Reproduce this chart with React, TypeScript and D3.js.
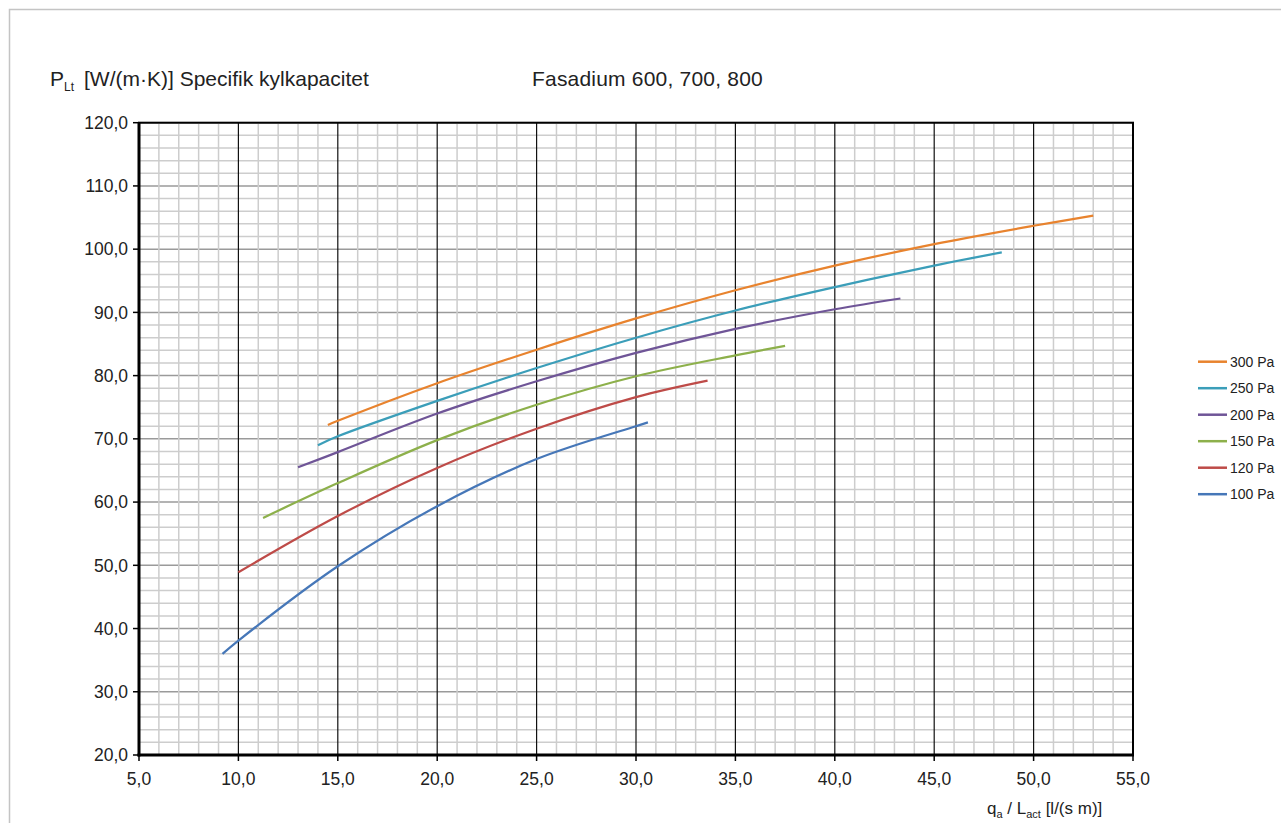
import React from 'react'
import * as d3 from 'd3'

// pressure series, top to bottom in the legend
const seriesNames = ['300 Pa', '250 Pa', '200 Pa', '150 Pa', '120 Pa', '100 Pa']
const seriesColors = ['#E8832E', '#3B9EB9', '#6F5597', '#8DB04B', '#BE4B48', '#4677B8']

const q300 = [14.5, 15, 20, 25, 30, 35, 40, 45, 50, 53.0]
const p300 = [72.2, 72.85, 78.8, 84.1, 89.05, 93.5, 97.4, 100.8, 103.7, 105.3]
const q250 = [14.0, 15, 20, 25, 30, 35, 40, 45, 48.4]
const p250 = [69.0, 70.4, 76.0, 81.2, 86.0, 90.3, 94.0, 97.4, 99.5]
const q200 = [13.0, 15, 20, 25, 30, 35, 40, 43.3]
const p200 = [65.5, 67.9, 74.0, 79.1, 83.6, 87.4, 90.5, 92.2]
const q150 = [11.24, 15, 20, 25, 30, 35, 37.5]
const p150 = [57.5, 63.0, 69.8, 75.4, 79.9, 83.2, 84.7]
const q120 = [10.0, 15, 20, 25, 30, 33.6]
const p120 = [48.9, 57.8, 65.4, 71.6, 76.6, 79.2]
const q100 = [9.2, 10, 15, 20, 25, 30, 30.6]
const p100 = [36.0, 38.1, 49.85, 59.35, 66.8, 72.0, 72.6]

const xTicks = [5, 10, 15, 20, 25, 30, 35, 40, 45, 50, 55]
const yTicks = [20, 30, 40, 50, 60, 70, 80, 90, 100, 110, 120]

const qs = [q300, q250, q200, q150, q120, q100]
const ps = [p300, p250, p200, p150, p120, p100]

const fmt = (v: number) => v.toFixed(1).replace('.', ',')

const App = () => {
  const width = 1281
  const height = 823
  const left = 139
  const right = 1133
  const top = 122.7
  const bottom = 755

  const x = d3.scaleLinear().domain([5, 55]).range([left, right])
  const y = d3.scaleLinear().domain([20, 120]).range([bottom, top])

  const line = d3
    .line<[number, number]>()
    .x((d) => x(d[0]))
    .y((d) => y(d[1]))
    .curve(d3.curveCatmullRom.alpha(0.5))

  const minorX = d3.range(5, 56, 1)
  const minorY = d3.range(20, 121, 2)
  const font = 'Liberation Sans, Arial, Helvetica, sans-serif'

  return (
    <svg
      width={width}
      height={height}
      style={{ position: 'absolute', left: 0, top: 0, background: '#fff' }}
      fontFamily={font}
    >
      <rect x={9.5} y={9.5} width={1400} height={900} fill="#fff" stroke="#c4c4c4" strokeWidth={1.5} />

      <text x={50} y={86} fontSize={21} fill="#222">
        P
        <tspan fontSize={12} dy={5}>Lt</tspan>
        <tspan dy={-5} dx={10}>[W/(m·K)] Specifik kylkapacitet</tspan>
      </text>
      <text x={532} y={86} fontSize={21} letterSpacing={0.2} fill="#222">Fasadium 600, 700, 800</text>

      {/* grid */}
      {minorY.map((v) => (
        <line
          key={'gy' + v}
          x1={left}
          x2={right}
          y1={y(v)}
          y2={y(v)}
          stroke={v % 10 === 0 ? '#9a9a9a' : '#cdcdcd'}
          strokeWidth={1.5}
        />
      ))}
      {minorX.map((v) => (
        <line
          key={'gx' + v}
          x1={x(v)}
          x2={x(v)}
          y1={top}
          y2={bottom}
          stroke={v % 5 === 0 ? '#111' : '#cdcdcd'}
          strokeWidth={v % 5 === 0 ? 1.2 : 1.5}
        />
      ))}

      {/* frame */}
      <rect x={left} y={top} width={right - left} height={bottom - top} fill="none" stroke="#000" strokeWidth={2} />
      <line x1={left} x2={left} y1={top} y2={bottom + 1.5} stroke="#000" strokeWidth={3} />
      <line x1={left - 1.5} x2={right + 1} y1={bottom} y2={bottom} stroke="#000" strokeWidth={3} />

      {/* y axis */}
      {yTicks.map((v) => (
        <g key={'yt' + v}>
          <line x1={left - 6} x2={left} y1={y(v)} y2={y(v)} stroke="#000" strokeWidth={1.5} />
          <text x={128} y={y(v)} dy="0.36em" textAnchor="end" fontSize={17.5} fill="#222">
            {fmt(v)}
          </text>
        </g>
      ))}

      {/* x axis */}
      {xTicks.map((v) => (
        <g key={'xt' + v}>
          <line x1={x(v)} x2={x(v)} y1={bottom} y2={bottom + 6} stroke="#000" strokeWidth={1.5} />
          <text x={x(v)} y={785} textAnchor="middle" fontSize={17.5} fill="#222">
            {fmt(v)}
          </text>
        </g>
      ))}

      <text x={987} y={814} fontSize={17} fill="#222">
        q<tspan fontSize={11} dy={4}>a</tspan>
        <tspan dy={-4}> / L</tspan>
        <tspan fontSize={11} dy={4}>act</tspan>
        <tspan dy={-4}> [l/(s m)]</tspan>
      </text>

      {/* curves */}
      {seriesNames.map((name, i) => (
        <path
          key={name}
          d={line(qs[i].map((q, j) => [q, ps[i][j]] as [number, number])) || ''}
          fill="none"
          stroke={seriesColors[i]}
          strokeWidth={2.2}
        />
      ))}

      {/* legend (nudged left so the labels stay inside the page) */}
      {seriesNames.map((name, i) => (
        <g key={'lg' + name} transform={`translate(1198, ${361.7 + i * 26.5})`}>
          <line x1={0} x2={29} y1={0} y2={0} stroke={seriesColors[i]} strokeWidth={2.5} />
          <text x={32} y={0} dy="0.36em" fontSize={14} fill="#222">
            {name}
          </text>
        </g>
      ))}
    </svg>
  )
}

export default App
